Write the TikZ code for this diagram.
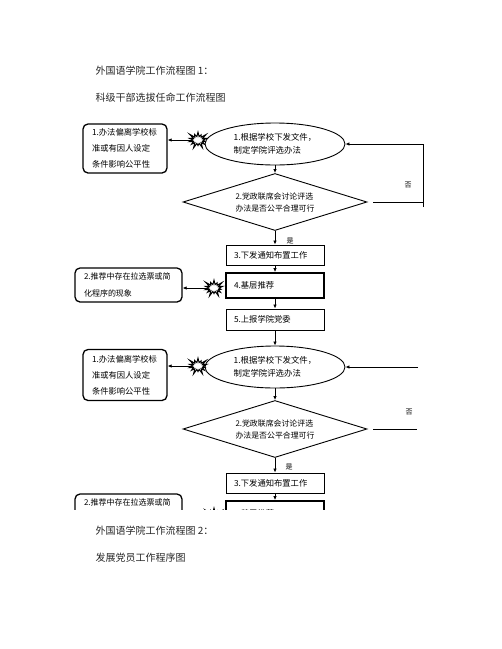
\documentclass[tikz,border=0pt]{standalone}
\usepackage{fontspec}
\setmainfont{Noto Sans CJK SC}
\usetikzlibrary{shapes.geometric,shapes.symbols,arrows.meta}
\begin{document}
\begin{tikzpicture}[x=1pt,y=-1pt,
  every node/.style={font=\fontsize{8}{13}\selectfont},
  arr/.style={-{Latex[length=4pt,width=3.5pt]},line width=0.8pt},
  plain/.style={line width=0.8pt},
  stepbox/.style={draw,line width=0.9pt,minimum width=98pt,minimum height=20pt,inner sep=0pt,align=left,text width=82pt,font=\fontsize{8.3}{13}\selectfont},
  thickbox/.style={stepbox,line width=1.8pt,minimum height=25pt},
  sidebox/.style={draw,line width=1.3pt,rounded corners=5pt,inner sep=0pt,align=left},
  oval/.style={ellipse,draw,line width=0.9pt,minimum width=140pt,minimum height=42pt,inner sep=0pt,align=left,font=\fontsize{8.4}{12.5}\selectfont},
  decision/.style={diamond,draw,line width=0.9pt,minimum width=184pt,minimum height=57pt,inner sep=0pt,shape aspect=3.2,align=left,font=\fontsize{7.9}{12}\selectfont},
  burst/.style={starburst,draw,fill=white,line width=1pt,minimum width=22pt,minimum height=19pt,inner sep=0pt,starburst points=14,starburst point height=6pt},
  title/.style={anchor=west,font=\fontsize{10}{12}\selectfont,text=black!85},
  tag/.style={font=\fontsize{7}{8}\selectfont}
]
\useasboundingbox (0,0) rectangle (502,649);

% titles
\node[title] (t1) at (92,71) {外国语学院工作流程图 1：};
\node[title] (t2) at (92,98) {科级干部选拔任命工作流程图};
\node[title] (t3) at (92,531) {外国语学院工作流程图 2：};
\node[title] (t4) at (92,558) {发展党员工作程序图};

% ---------- first chart ----------
\node[oval] (e1) at (275,144) {1.根据学校下发文件，\\制定学院评选办法};
\node[decision] (d1) at (275,202) {2.党政联席会讨论评选\\办法是否公平合理可行};
\node[stepbox] (b3a) at (275,255) {3.下发通知布置工作};
\node[thickbox] (b4a) at (275,285.5) {4.基层推荐};
\node[stepbox,minimum height=21pt] (b5a) at (275,319.5) {5.上报学院党委};

\node[sidebox,minimum width=84pt,minimum height=49pt,text width=66pt,font=\fontsize{8.3}{16}\selectfont] (l1a) at (125,148.5) {1.办法偏离学校标\\准或有因人设定\\条件影响公平性};
\node[sidebox,minimum width=107pt,minimum height=34pt,text width=89pt,font=\fontsize{8}{17}\selectfont] (l2a) at (128.5,285) {2.推荐中存在拉选票或简\\化程序的现象};

\node[burst] (s1a) at (198,140) {};
\node[burst] (s2a) at (214,288) {};

\draw[arr] (e1.south) -- (d1.north);
\draw[arr] (d1.south) -- (b3a.north);
\draw[arr] (b3a.south) -- (b4a.north);
\draw[arr] (b4a.south) -- (b5a.north);
\draw[arr] (s1a.west) -- (s1a.west -| l1a.east);
\draw[arr] (s2a.west) -- (s2a.west -| l2a.east);

\coordinate (fa) at (373,202);
\coordinate (fb) at (423,207);
\coordinate (fc) at (423,144);
\draw[plain] (fa) -- (fa -| fb);
\draw[arr] (fb) -- (fc) -- (e1.east);
\node[tag] (n1) at (408,185) {否};
\node[tag] (y1) at (290,241) {是};

% ---------- second chart (cut off) ----------
\begin{scope}
\clip (0,0) rectangle (502,509);
\node[oval] (e2) at (275,367) {1.根据学校下发文件，\\制定学院评选办法};
\node[decision] (d2) at (275,429) {2.党政联席会讨论评选\\办法是否公平合理可行};
\node[stepbox] (b3b) at (275,483) {3.下发通知布置工作};
\node[thickbox] (b4b) at (275,513.5) {4.基层推荐};

\node[sidebox,minimum width=84pt,minimum height=51pt,text width=66pt,font=\fontsize{8.3}{16}\selectfont] (l1b) at (125,375) {1.办法偏离学校标\\准或有因人设定\\条件影响公平性};
\node[sidebox,minimum width=107pt,minimum height=34pt,text width=89pt,font=\fontsize{8}{17}\selectfont] (l2b) at (128.5,511) {2.推荐中存在拉选票或简\\化程序的现象};

\node[burst] (s1b) at (198,366) {};
\node[burst] (s2b) at (214,516) {};

\draw[arr] (b5a.south) -- (e2.north);
\draw[arr] (e2.south) -- (d2.north);
\draw[arr] (d2.south) -- (b3b.north);
\draw[arr] (b3b.south) -- (b4b.north);
\draw[arr] (s1b.west) -- (s1b.west -| l1b.east);
\draw[arr] (s2b.west) -- (s2b.west -| l2b.east);

\coordinate (ga) at (418,367);
\draw[arr] (ga) -- (e2.east);
\coordinate (ha) at (373,429);
\coordinate (hb) at (417,429);
\draw[plain] (ha) -- (hb);
\node[tag] (n2) at (409,412) {否};
\node[tag] (y2) at (289,467) {是};
\end{scope}
\end{tikzpicture}
\end{document}
